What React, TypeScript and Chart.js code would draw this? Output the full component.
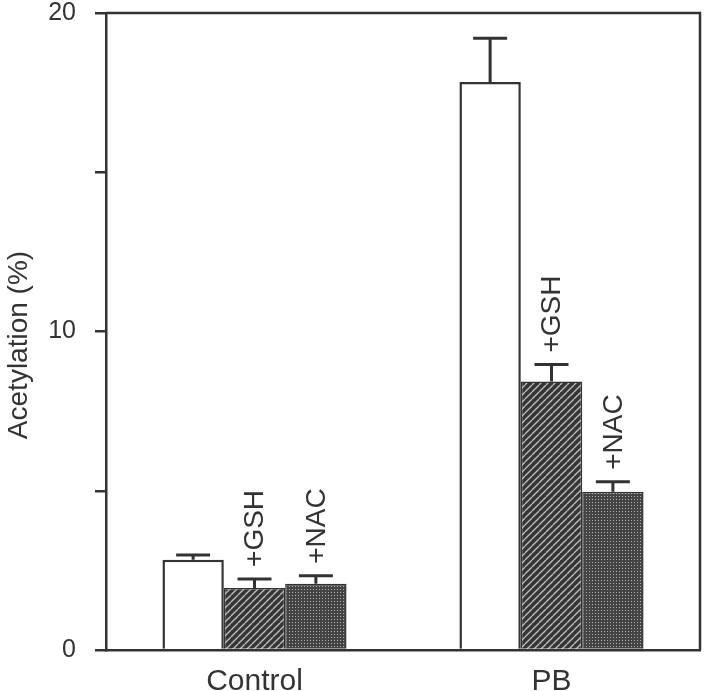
import React, { useEffect, useRef } from 'react';
import { Chart, registerables } from 'chart.js';

Chart.register(...registerables);

const categories = ['Control', 'PB'];
const baseValues = [2.83, 17.83];
const baseErrors = [0.15, 1.38];
const gshValues = [1.95, 8.43];
const gshErrors = [0.28, 0.53];
const nacValues = [2.08, 4.97];
const nacErrors = [0.25, 0.31];
const seriesLabels = ['', '+GSH', '+NAC'];
const yLabeledTicks = [0, 10, 20];
const yTitle = 'Acetylation (%)';

const INK = '#333333';
const FONT = 'Arial, "Liberation Sans", Helvetica, sans-serif';

function makeHatch(): CanvasPattern | string {
  const c = document.createElement('canvas');
  c.width = 7;
  c.height = 7;
  const g = c.getContext('2d');
  if (!g) return '#444';
  g.fillStyle = '#363636';
  g.fillRect(0, 0, 7, 7);
  g.strokeStyle = '#c0c0c0';
  g.lineWidth = 1.3;
  for (let k = -1; k <= 1; k++) {
    g.beginPath();
    g.moveTo(k * 7, 7);
    g.lineTo(k * 7 + 7, 0);
    g.stroke();
  }
  return g.createPattern(c, 'repeat') || '#444';
}

function makeStipple(): CanvasPattern | string {
  const c = document.createElement('canvas');
  c.width = 3;
  c.height = 3;
  const g = c.getContext('2d');
  if (!g) return '#555';
  g.fillStyle = '#444444';
  g.fillRect(0, 0, 3, 3);
  g.fillStyle = '#b0b0b0';
  g.fillRect(1, 1, 1, 1);
  return g.createPattern(c, 'repeat') || '#555';
}

const errorPlugin = {
  id: 'errorsAndLabels',
  afterDatasetsDraw(chart: any) {
    const ctx = chart.ctx;
    const y = chart.scales.y;
    const area = chart.chartArea;
    const errs = [baseErrors, gshErrors, nacErrors];
    ctx.save();
    ctx.strokeStyle = INK;
    ctx.lineWidth = 2.5;
    ctx.beginPath();
    ctx.moveTo(area.left, area.top);
    ctx.lineTo(area.right, area.top);
    ctx.lineTo(area.right, area.bottom);
    ctx.stroke();

    chart.data.datasets.forEach((ds: any, i: number) => {
      const meta = chart.getDatasetMeta(i);
      meta.data.forEach((el: any, j: number) => {
        const v = ds.data[j];
        const e = errs[i][j];
        const yt = y.getPixelForValue(v + e);
        ctx.strokeStyle = INK;
        ctx.lineWidth = 3;
        ctx.beginPath();
        ctx.moveTo(el.x, el.y);
        ctx.lineTo(el.x, yt);
        ctx.moveTo(el.x - 17, yt);
        ctx.lineTo(el.x + 17, yt);
        ctx.stroke();
        const lab = seriesLabels[i];
        if (lab) {
          ctx.save();
          ctx.translate(el.x + 1, yt - 12);
          ctx.rotate(-Math.PI / 2);
          ctx.fillStyle = INK;
          ctx.font = `28px ${FONT}`;
          ctx.textAlign = 'left';
          ctx.textBaseline = 'middle';
          ctx.fillText(lab, 0, 0);
          ctx.restore();
        }
      });
    });

    ctx.save();
    ctx.translate(19, 345);
    ctx.rotate(-Math.PI / 2);
    ctx.fillStyle = INK;
    ctx.font = `28px ${FONT}`;
    ctx.textAlign = 'center';
    ctx.textBaseline = 'middle';
    ctx.fillText(yTitle, 0, 0);
    ctx.restore();
    ctx.restore();
  },
};

export default function App() {
  const ref = useRef<HTMLCanvasElement | null>(null);
  useEffect(() => {
    if (!ref.current) return;
    const hatch = makeHatch();
    const stipple = makeStipple();
    const chart = new Chart(ref.current, {
      type: 'bar',
      data: {
        labels: categories,
        datasets: [
          { label: 'base', data: baseValues, backgroundColor: '#ffffff', borderColor: INK, borderWidth: 2.5 },
          { label: 'GSH', data: gshValues, backgroundColor: hatch as any, borderColor: INK, borderWidth: 1.5 },
          { label: 'NAC', data: nacValues, backgroundColor: stipple as any, borderColor: INK, borderWidth: 1.5 },
        ],
      },
      options: {
        animation: false,
        responsive: true,
        maintainAspectRatio: false,
        layout: { padding: { top: 13, right: 5, left: 0, bottom: 0 } },
        datasets: { bar: { categoryPercentage: 0.62, barPercentage: 1.0 } } as any,
        plugins: { legend: { display: false }, tooltip: { enabled: false } },
        scales: {
          x: {
            grid: { display: false },
            border: { display: true, color: INK, width: 2.5 },
            ticks: { color: INK, font: { size: 30, family: FONT, lineHeight: 1 }, padding: 9 },
            afterFit(scale: any) {
              scale.height = 41;
              scale.paddingLeft = 0;
              scale.paddingRight = 0;
            },
          },
          y: {
            min: 0,
            max: 20,
            grid: { drawOnChartArea: false, drawTicks: true, tickLength: 11, color: INK, lineWidth: 2.5 },
            border: { display: true, color: INK, width: 2.5 },
            ticks: {
              stepSize: 5,
              color: INK,
              font: { size: 25, family: FONT, lineHeight: 1 },
              padding: 19,
              callback: (val: any) => (yLabeledTicks.includes(Number(val)) ? String(val) : ''),
            },
            afterFit(scale: any) {
              scale.width = 106;
              scale.paddingTop = 0;
              scale.paddingBottom = 0;
            },
          },
        },
      },
      plugins: [errorPlugin],
    });
    return () => chart.destroy();
  }, []);
  return (
    <div style={{ position: 'absolute', left: 0, top: 0, width: 705, height: 691, background: '#fff' }}>
      <canvas ref={ref} />
    </div>
  );
}
